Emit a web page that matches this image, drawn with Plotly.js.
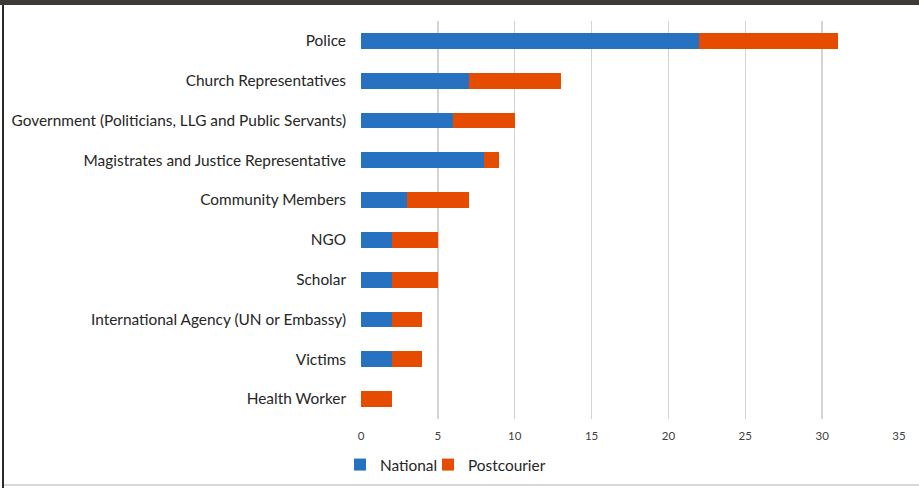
<!DOCTYPE html>
<html>
<head>
<meta charset="utf-8">
<script src="https://cdn.plot.ly/plotly-3.0.1.min.js"></script>
<style>html,body{margin:0;padding:0;background:#fff;}#chart{width:919px;height:488px;}</style>
</head>
<body>
<div id="chart"></div>
<script>
const categories = [
  "Police",
  "Church Representatives",
  "Government (Politicians, LLG and Public Servants)",
  "Magistrates and Justice Representative",
  "Community Members",
  "NGO",
  "Scholar",
  "International Agency (UN or Embassy)",
  "Victims",
  "Health Worker"
];
const national    = [22, 7, 6, 8, 3, 2, 2, 2, 2, 0];
const postcourier = [9, 6, 4, 1, 4, 3, 3, 2, 2, 2];
const xTicks = [0, 5, 10, 15, 20, 25, 30, 35];

const traces = [
  {type:'bar', orientation:'h', name:'National', y:categories, x:national,
   marker:{color:'#2672C0'}, hoverinfo:'x+y', legend:'legend'},
  {type:'bar', orientation:'h', name:'Postcourier', y:categories, x:postcourier,
   marker:{color:'#E64C00'}, hoverinfo:'x+y', legend:'legend2'}
];

const legendBase = {orientation:'h', xref:'container', yref:'container', xanchor:'left',
  y:0.047, yanchor:'middle', font:{size:15.4, color:'#262626'}, itemwidth:30,
  bgcolor:'rgba(0,0,0,0)', borderwidth:0};

const layout = {
  width:919, height:488,
  margin:{l:361, r:20, t:21, b:69},
  barmode:'stack',
  bargap:0.6,
  paper_bgcolor:'#fff', plot_bgcolor:'#fff',
  font:{family:'Lato, "Open Sans", sans-serif', color:'#262626'},
  xaxis:{range:[0,35], tickvals:xTicks, ticktext:xTicks.map(String),
         showgrid:true, gridcolor:'#D3D3D3', gridwidth:1.5, zeroline:false,
         showline:false, ticks:'', tickfont:{size:11.5, color:'#404040'}, ticklabelstandoff:8, fixedrange:true},
  yaxis:{autorange:'reversed', showgrid:false, zeroline:false, showline:false,
         ticks:'', ticklabelstandoff:14, tickfont:{size:15.4, color:'#262626'}, fixedrange:true},
  showlegend:true,
  legend: Object.assign({}, legendBase, {x:340/919}),
  legend2: Object.assign({}, legendBase, {x:428/919}),
  shapes:[
    {type:'rect', xref:'paper', yref:'paper', x0:-361/538, x1:1+20/538, y0:1+16/398, y1:1+21/398,
     fillcolor:'#3d3a38', line:{width:0}},
    {type:'rect', xref:'paper', yref:'paper', x0:-359/538, x1:-357/538, y0:-69/398, y1:1+16/398,
     fillcolor:'#2b2b2b', line:{width:0}},
    {type:'line', xref:'paper', yref:'paper', x0:-357/538, x1:1+20/538, y0:-66/398, y1:-66/398,
     line:{color:'#D8D8D8', width:2}}
  ]
};

Plotly.newPlot('chart', traces, layout, {displayModeBar:false, staticPlot:true});
</script>
</body>
</html>
